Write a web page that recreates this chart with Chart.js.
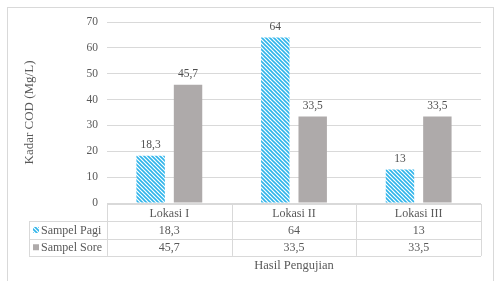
<!DOCTYPE html>
<html>
<head>
<meta charset="utf-8">
<script src="https://cdn.jsdelivr.net/npm/chart.js@4"></script>
<style>
    html, body { margin: 0; padding: 0; background: #ffffff; }
    #wrap { width: 494px; height: 281px; position: relative; }
</style>
</head>
<body>
<div id="wrap"><canvas id="codChart" width="494" height="281"></canvas></div>
<script>
var categories = ['Lokasi I', 'Lokasi II', 'Lokasi III'];
var seriesNames = ['Sampel Pagi', 'Sampel Sore'];
var pagiValues = [18.3, 64, 13];
var soreValues = [45.7, 33.5, 33.5];
var yTicks = [0, 10, 20, 30, 40, 50, 60, 70];

var FONT = '"Liberation Serif", "Times New Roman", serif';
var TEXT = '#595959';
var LINE = '#d9d9d9';
var GRAY = '#aeaaaa';

// hatch pattern for the morning series
function makeHatch() {
    var c = document.createElement('canvas');
    c.width = 4; c.height = 4;
    var g = c.getContext('2d');
    g.fillStyle = '#ffffff';
    g.fillRect(0, 0, 4, 4);
    g.strokeStyle = '#2fb4ea';
    g.lineWidth = 1.6;
    g.beginPath();
    g.moveTo(-1, -1); g.lineTo(5, 5);
    g.moveTo(-3, 1); g.lineTo(1, 5);
    g.moveTo(3, -1); g.lineTo(5, 1);
    g.stroke();
    return g.createPattern(c, 'repeat');
}

function fmt(v) {
    return String(v).replace('.', ',');
}

var ctx = document.getElementById('codChart').getContext('2d');
var hatch = makeHatch();

var tablePlugin = {
    id: 'tablePlugin',
    afterDraw: function (chart) {
        var c = chart.ctx;
        var area = chart.chartArea;
        var xs = chart.scales.x;
        var left = area.left, right = area.right;
        var colW = (right - left) / categories.length;
        var top = area.bottom + 1;
        var rowH = 17.3;
        var legLeft = 29;

        c.save();
        // outer chart border
        c.strokeStyle = LINE;
        c.lineWidth = 1;
        c.strokeRect(7.5, 7.5, 486, 280);

        // value labels above bars
        c.fillStyle = '#505050';
        c.font = '11.5px ' + FONT;
        c.textAlign = 'center';
        c.textBaseline = 'bottom';
        chart.data.datasets.forEach(function (ds, di) {
            var meta = chart.getDatasetMeta(di);
            meta.data.forEach(function (bar, i) {
                c.fillText(fmt(ds.data[i]), bar.x, bar.y - 5);
            });
        });

        // data table grid
        c.strokeStyle = LINE;
        c.beginPath();
        c.moveTo(left, top + 0.5); c.lineTo(right, top + 0.5);
        for (var r = 1; r <= 3; r++) {
            var yy = Math.round(top + r * rowH) + 0.5;
            c.moveTo(legLeft, yy); c.lineTo(right, yy);
        }
        for (var k = 0; k <= categories.length; k++) {
            var xx = Math.round(left + k * colW) + 0.5;
            c.moveTo(xx, top); c.lineTo(xx, top + 3 * rowH);
        }
        c.moveTo(legLeft + 0.5, top + rowH); c.lineTo(legLeft + 0.5, top + 3 * rowH);
        c.stroke();

        // table text
        c.fillStyle = TEXT;
        c.font = '12px ' + FONT;
        c.textBaseline = 'middle';
        c.textAlign = 'center';
        categories.forEach(function (cat, i) {
            var cx = xs.getPixelForValue(i);
            c.fillText(cat, cx, top + rowH * 0.5 + 1);
            c.fillText(fmt(pagiValues[i]), cx, top + rowH * 1.5 + 1);
            c.fillText(fmt(soreValues[i]), cx, top + rowH * 2.5 + 1);
        });

        // legend keys inside the table
        c.textAlign = 'left';
        c.fillStyle = hatch;
        c.fillRect(33, top + rowH * 1.5 - 3, 6, 6);
        c.fillStyle = GRAY;
        c.fillRect(33, top + rowH * 2.5 - 3, 6, 6);
        c.fillStyle = TEXT;
        c.fillText(seriesNames[0], 41, top + rowH * 1.5 + 1);
        c.fillText(seriesNames[1], 41, top + rowH * 2.5 + 1);

        // x axis title
        c.textAlign = 'center';
        c.font = '12.5px ' + FONT;
        c.fillText('Hasil Pengujian', (left + right) / 2, 266);
        c.restore();
    }
};

var codChart = new Chart(ctx, {
    type: 'bar',
    data: {
        labels: categories,
        datasets: [{
            label: seriesNames[0],
            data: pagiValues,
            backgroundColor: hatch,
            categoryPercentage: 0.6,
            barPercentage: 0.76
        }, {
            label: seriesNames[1],
            data: soreValues,
            backgroundColor: GRAY,
            categoryPercentage: 0.6,
            barPercentage: 0.76
        }]
    },
    options: {
        responsive: false,
        animation: false,
        layout: {
            padding: { left: 7, top: 22, right: 13, bottom: 78 }
        },
        plugins: {
            legend: { display: false },
            tooltip: { enabled: false }
        },
        scales: {
            x: {
                display: false
            },
            y: {
                min: 0,
                max: 70,
                afterFit: function (scale) { scale.width = 100; },
                afterBuildTicks: function (scale) {
                    scale.ticks = yTicks.map(function (v) { return { value: v }; });
                },
                border: { display: false },
                grid: { color: LINE, drawTicks: false },
                ticks: {
                    padding: 9,
                    color: TEXT,
                    font: { family: FONT, size: 11.5 }
                },
                title: {
                    display: true,
                    text: 'Kadar COD (Mg/L)',
                    color: TEXT,
                    font: { family: FONT, size: 13 },
                    padding: { top: 15, bottom: 0 }
                }
            }
        }
    },
    plugins: [tablePlugin]
});
</script>
</body>
</html>
